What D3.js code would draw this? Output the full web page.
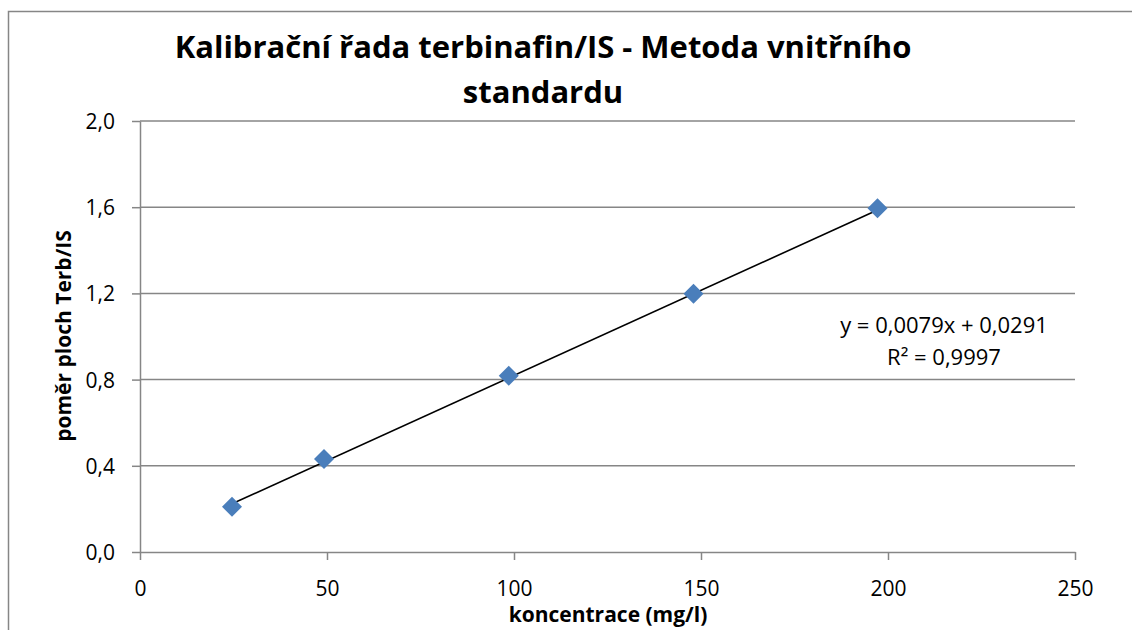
<!DOCTYPE html>
<meta charset="utf-8">
<script src="https://d3js.org/d3.v7.min.js"></script>
<style>
	body{
		margin:0;
		background:#fff;
		font-family: 'Open Sans', sans-serif;
	}
</style>
<div id="chart"></div>
<script>

// calibration points
var konc = [24.6, 49.2, 98.6, 148.0, 197.2]
var pomer = [0.21, 0.432, 0.818, 1.198, 1.595]
var xTicks = [0, 50, 100, 150, 200, 250]
var yTicks = [0, 0.4, 0.8, 1.2, 1.6, 2.0]
var slope = 0.0079
var intercept = 0.0291
var titleLines = ["Kalibrační řada terbinafin/IS - Metoda vnitřního", "standardu"]
var eqLines = ["y = 0,0079x + 0,0291", "R² = 0,9997"]

var w = 1132
var h = 630
var pLeft = 140, pRight = 1075, pTop = 121, pBottom = 552

var svg = d3.select("#chart").append("svg").attr("width",w).attr("height",h)
	.style("font-family","'Open Sans', sans-serif")

// outer chart border
svg.append("rect").attr("x",8.5).attr("y",11.5).attr("width",w+20).attr("height",h+20)
	.attr("fill","#fff").attr("stroke","#868686").attr("stroke-width",1.5)

var x = d3.scaleLinear().domain([0,250]).range([pLeft,pRight])
var y = d3.scaleLinear().domain([0,2]).range([pBottom,pTop])

var fmt = function(d){return d3.format(".1f")(d).replace(".",",")}

// gridlines
svg.append("g").selectAll("line").data(yTicks.slice(1)).join("line")
	.attr("x1",pLeft).attr("x2",pRight)
	.attr("y1",function(d){return y(d)}).attr("y2",function(d){return y(d)})
	.attr("stroke","#868686").attr("stroke-width",1.5)

var yAxis = svg.append("g").attr("transform","translate("+pLeft+",0)")
	.call(d3.axisLeft(y).tickValues(yTicks).tickFormat(fmt).tickSize(8).tickSizeOuter(0))
var xAxis = svg.append("g").attr("transform","translate(0,"+pBottom+")")
	.call(d3.axisBottom(x).tickValues(xTicks).tickSize(8).tickSizeOuter(0))

svg.selectAll(".domain, .tick line").attr("stroke","#868686").attr("stroke-width",1.5)
yAxis.selectAll("text").attr("font-family","'Open Sans', sans-serif").attr("font-size","21px").attr("fill","#000").attr("x",-25).attr("dy","0.36em")
xAxis.selectAll("text").attr("font-family","'Open Sans', sans-serif").attr("font-size","21px").attr("fill","#000").attr("y",44).attr("dy",0)

// trend line
svg.append("line")
	.attr("x1",x(konc[0])).attr("y1",y(slope*konc[0]+intercept))
	.attr("x2",x(konc[konc.length-1])).attr("y2",y(slope*konc[konc.length-1]+intercept))
	.attr("stroke","#000").attr("stroke-width",1.6)

// markers
svg.append("g").selectAll("path").data(konc).join("path")
	.attr("d",function(d,i){
		var cx = x(d), cy = y(pomer[i]), r = 10
		return "M"+cx+","+(cy-r)+"L"+(cx+r)+","+cy+"L"+cx+","+(cy+r)+"L"+(cx-r)+","+cy+"Z"
	})
	.attr("fill","#4A7EBB")

// title
svg.append("g").selectAll("text").data(titleLines).join("text")
	.attr("x",543).attr("y",function(d,i){return 58+i*45})
	.attr("text-anchor","middle")
	.attr("font-size","31px").attr("font-weight",700)
	.text(function(d){return d})

// equation
svg.append("g").selectAll("text").data(eqLines).join("text")
	.attr("x",944).attr("y",function(d,i){return 333+i*32})
	.attr("text-anchor","middle")
	.attr("font-size","22px")
	.text(function(d){return d})

// axis titles
svg.append("text").attr("x",608).attr("y",622).attr("text-anchor","middle")
	.attr("font-size","21px").attr("font-weight",700).text("koncentrace (mg/l)")
svg.append("text").attr("transform","translate(71,336) rotate(-90)").attr("text-anchor","middle")
	.attr("font-size","21px").attr("font-weight",700).text("poměr ploch Terb/IS")

</script>
